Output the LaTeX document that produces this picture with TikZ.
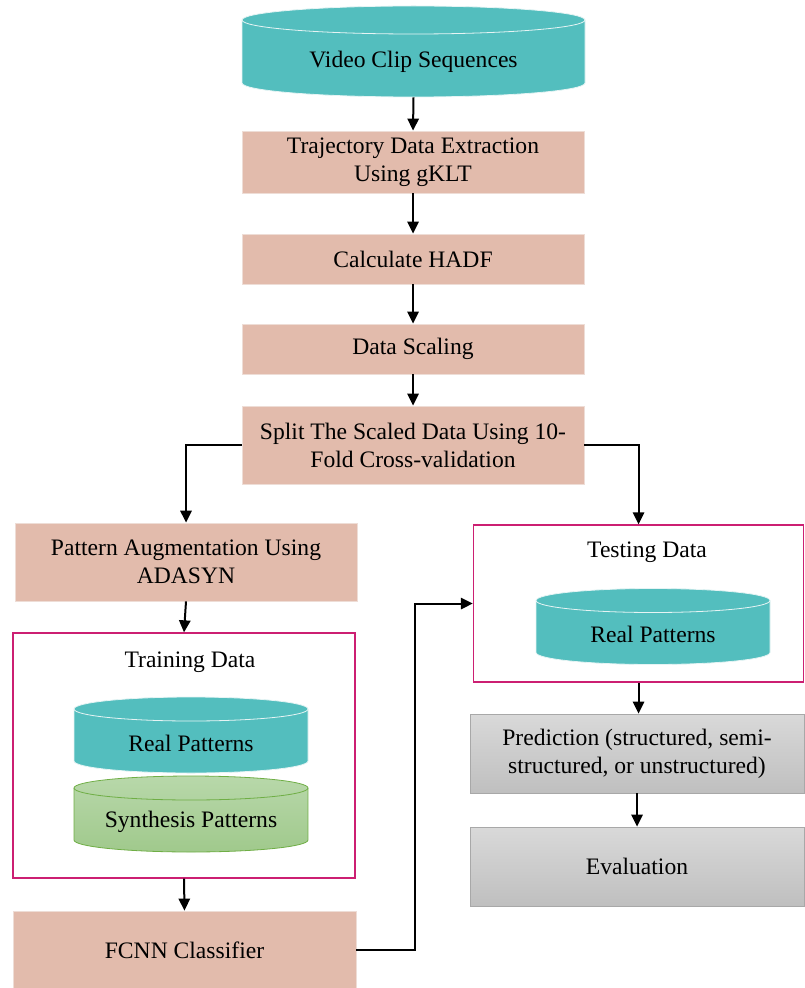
\documentclass[tikz,border=0pt]{standalone}
\usepackage{fontspec}
\setmainfont{Liberation Serif}
\usetikzlibrary{arrows.meta}
\definecolor{salmon}{HTML}{E2BBAC}
\definecolor{salmonedge}{HTML}{EEDDD6}
\definecolor{tealfill}{HTML}{53BEBE}
\definecolor{tealedge}{HTML}{E6F4F4}
\definecolor{greentop}{HTML}{B8D8AA}
\definecolor{greenbot}{HTML}{A0C98C}
\definecolor{greenedge}{HTML}{6FAE45}
\definecolor{framecol}{HTML}{CC1F72}
\definecolor{graytop}{HTML}{D9D9D9}
\definecolor{graybot}{HTML}{BFBFBF}
\definecolor{grayedge}{HTML}{A8A8A8}
\newcommand{\drawcyl}[7]{%
  \pgfmathsetmacro{\cylrx}{(#2-#1)/2*0.75}%
  \pgfmathsetmacro{\cylry}{#5*0.75}%
  \path[#6,draw=#7,line width=0.6pt] (#1,#3) -- (#1,#4)
    arc[start angle=180,end angle=360,x radius=\cylrx pt,y radius=\cylry pt]
    -- (#2,#3)
    arc[start angle=0,end angle=180,x radius=\cylrx pt,y radius=\cylry pt] -- cycle;
  \draw[#7,line width=0.6pt] (#1,#3)
    arc[start angle=180,end angle=360,x radius=\cylrx pt,y radius=\cylry pt];
}
\tikzset{
  txt/.style={font=\fontsize{17.7}{21}\selectfont, align=center, inner sep=0pt},
  procbox/.style={txt, fill=salmon, draw=salmonedge, line width=0.6pt},
  graybox/.style={txt, top color=graytop, bottom color=graybot, draw=grayedge, line width=0.6pt},
  framebox/.style={draw=framecol, line width=1pt, fill=none, inner sep=0pt},
  flow/.style={-{Triangle[length=9pt,width=8.5pt]}, line width=1.5pt, black},
}
\begin{document}
\begin{tikzpicture}[x=0.75pt,y=-0.75pt]
\useasboundingbox (0,0) rectangle (804,988);

% top cylinder
\drawcyl{242}{585}{20}{83}{14}{fill=tealfill}{tealedge}
\node[txt, minimum width=257pt, minimum height=52.5pt] (vid) at (413.5,62) {Video Clip Sequences};

\node[procbox, minimum width=256.5pt, minimum height=46.5pt] (traj) at (413,162) {Trajectory Data Extraction\\Using gKLT};
\node[procbox, minimum width=256.5pt, minimum height=37.5pt] (hadf) at (413,259) {Calculate HADF};
\node[procbox, minimum width=256.5pt, minimum height=37.5pt] (scal) at (413,349) {Data Scaling};
\node[procbox, minimum width=256.5pt, minimum height=58.5pt] (split) at (413,445) {Split The Scaled Data Using 10-\\Fold Cross-validation};

\node[procbox, minimum width=256.5pt, minimum height=58.5pt] (aug) at (186,562) {Pattern Augmentation Using\\ADASYN};

% training frame
\node[framebox, minimum width=256.5pt, minimum height=183.75pt] (train) at (184,755.5) {};
\node[txt] (traintitle) at (190,662) {Training Data};
\drawcyl{74}{308}{709}{761}{12}{fill=tealfill}{tealedge}
\node[txt] (trainreal) at (191,743) {Real Patterns};
\drawcyl{74}{308}{788}{840}{12}{top color=greentop,bottom color=greenbot}{greenedge}
\node[txt] (synth) at (191,822) {Synthesis Patterns};

\node[procbox, minimum width=257.25pt, minimum height=58.5pt] (fcnn) at (184.5,950) {FCNN Classifier};

% testing frame
\node[framebox, minimum width=247.5pt, minimum height=117.75pt] (test) at (638.5,603.5) {};
\node[txt] (testtitle) at (647,552) {Testing Data};
\drawcyl{536}{770}{600.5}{652.5}{12}{fill=tealfill}{tealedge}
\node[txt] (testreal) at (653,634) {Real Patterns};

\node[graybox, minimum width=250.5pt, minimum height=59.25pt] (pred) at (637,753.5) {Prediction (structured, semi-\\structured, or unstructured)};
\node[graybox, minimum width=250.5pt, minimum height=59.25pt] (eval) at (637,866.5) {Evaluation};

% connectors
\draw[flow] (vid.south) -- (traj.north);
\draw[flow] (traj.south) -- (hadf.north);
\draw[flow] (hadf.south) -- (scal.north);
\draw[flow] (scal.south) -- (split.north);
\draw[flow] (split.west) -| (aug.north);
\draw[flow] (split.east) -| (test.north);
\draw[flow] (aug.south) -- (train.north);
\draw[flow] (train.south) -- (fcnn.north);
\coordinate (bend) at (415,950);
\draw[flow] (fcnn.east) -- (bend) |- (test.west);
\draw[flow] (test.south) -- (test.south |- pred.north);
\draw[flow] (pred.south) -- (eval.north);
\end{tikzpicture}
\end{document}
